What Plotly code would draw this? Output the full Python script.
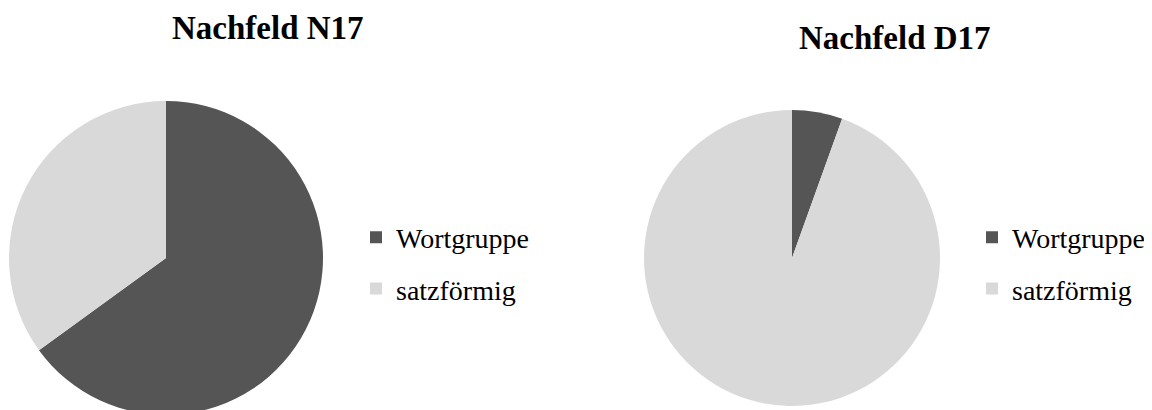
import plotly.graph_objects as go

categories = ["Wortgruppe", "satzförmig"]
values_n17 = [65, 35]
values_d17 = [5.5, 94.5]
titles = ["Nachfeld N17", "Nachfeld D17"]
colors = ["#555555", "#d9d9d9"]

W, H = 1152, 410
OFF = 8  # page body margin compensation

def fx(px):
    return (px - OFF) / W

def fy(py):
    return 1 - (py - OFF) / H

def px_dom(x0, x1, y0, y1):
    return dict(x=[fx(x0), fx(x1)], y=[max(0, fy(y1)), min(1, fy(y0))])

fig = go.Figure()
fig.add_trace(go.Pie(labels=categories, values=values_n17, sort=False, direction="clockwise",
                     rotation=0, marker=dict(colors=colors, line=dict(width=0)),
                     textinfo="none", hoverinfo="label+percent", showlegend=False,
                     domain=px_dom(9, 323, 101, 415)))
fig.add_trace(go.Pie(labels=categories, values=values_d17, sort=False, direction="clockwise",
                     rotation=0, marker=dict(colors=colors, line=dict(width=0)),
                     textinfo="none", hoverinfo="label+percent", showlegend=False,
                     domain=px_dom(644, 940, 110, 406)))

for lg in ["legend", "legend2"]:
    for cat, col in zip(categories, colors):
        fig.add_trace(go.Scatter(x=[None], y=[None], mode="markers", name=cat,
                                 marker=dict(symbol="square", size=12, color=col),
                                 legend=lg, legendgroup=lg + cat, showlegend=True))

legend_common = dict(font=dict(family="Liberation Serif", size=28, color="black"),
                     bgcolor="rgba(0,0,0,0)", tracegroupgap=12, traceorder="grouped",
                     xanchor="left", yanchor="middle", itemclick=False)
fig.update_layout(
    width=W, height=H,
    margin=dict(l=0, r=0, t=0, b=0),
    paper_bgcolor="white", plot_bgcolor="white",
    xaxis=dict(visible=False), yaxis=dict(visible=False),
    legend=dict(x=fx(356), y=fy(263), **legend_common),
    legend2=dict(x=fx(972), y=fy(263), **legend_common),
    annotations=[
        dict(text="<b>" + titles[0] + "</b>", x=fx(268), y=fy(28), xref="paper", yref="paper",
             xanchor="center", yanchor="middle", showarrow=False,
             font=dict(family="Liberation Serif", size=33, color="black")),
        dict(text="<b>" + titles[1] + "</b>", x=fx(895), y=fy(38), xref="paper", yref="paper",
             xanchor="center", yanchor="middle", showarrow=False,
             font=dict(family="Liberation Serif", size=33, color="black")),
    ],
)

fig.write_html("out.html")
